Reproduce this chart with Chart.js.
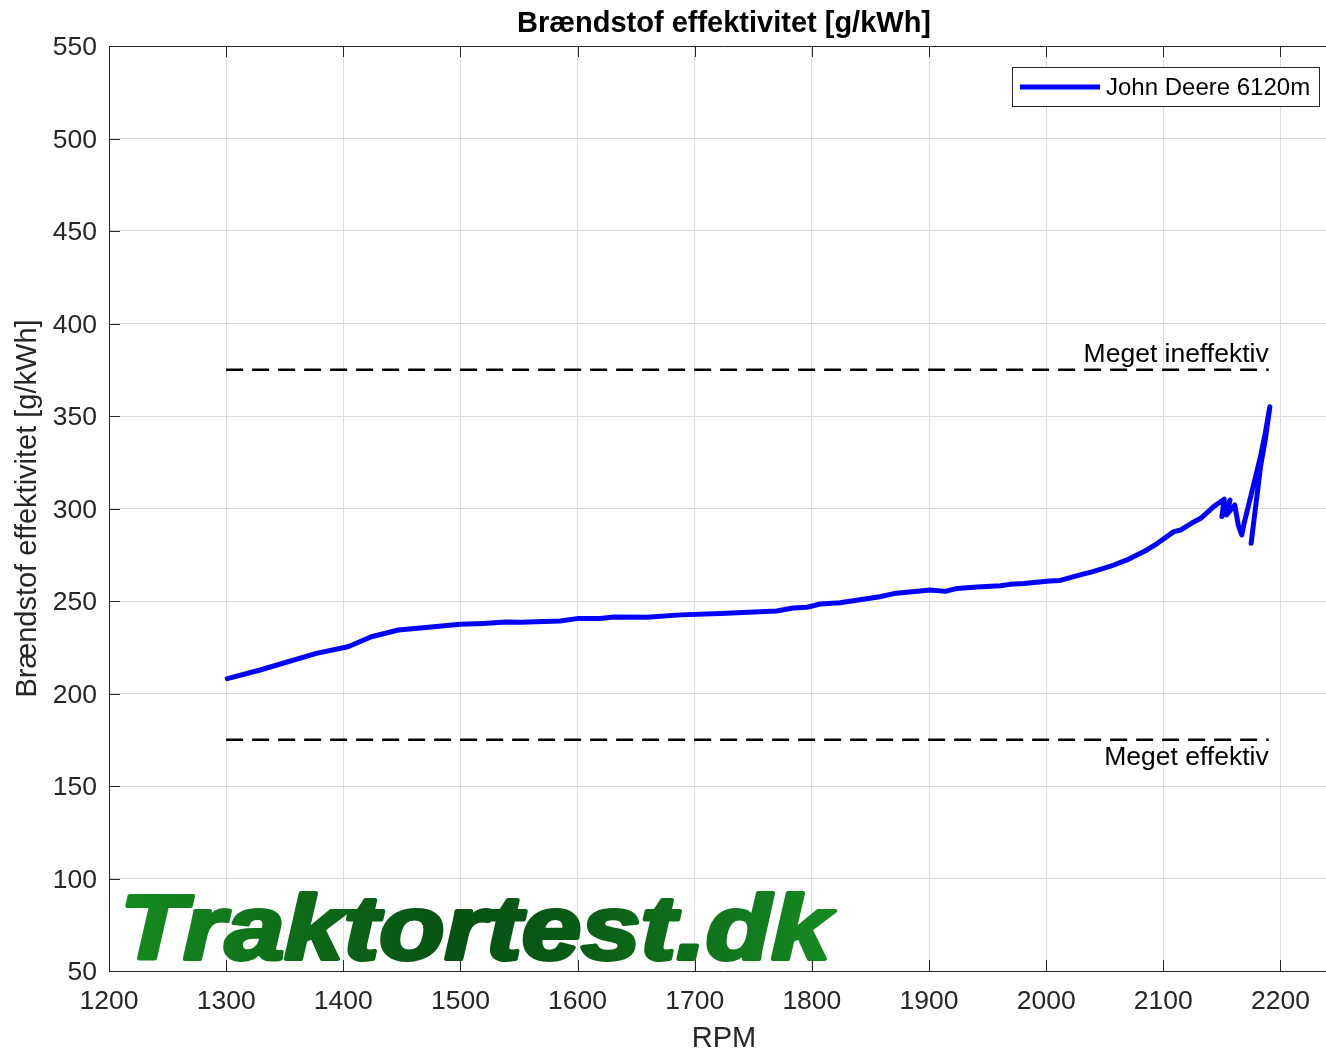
<!DOCTYPE html>
<html><head><meta charset="utf-8">
<script src="https://cdn.jsdelivr.net/npm/chart.js@4/dist/chart.umd.min.js"></script>
<style>
html,body{margin:0;padding:0;background:#fff;overflow:hidden;width:1326px;height:1056px}
#wrap{width:1448px;height:1056px;position:relative}
</style></head>
<body><div id="wrap"><canvas id="c" width="1448" height="1056"></canvas></div>
<script>
const seriesName = 'John Deere 6120m';
const rpm = [1301, 1329, 1377, 1404, 1424, 1447, 1475, 1500, 1520, 1538, 1551, 1585, 1601, 1619, 1631, 1659, 1688, 1722, 1770, 1784, 1796, 1807, 1824, 1858, 1870, 1901, 1914, 1924, 1941, 1961, 1969, 1981, 2003, 2012, 2029, 2040, 2055, 2069, 2086, 2095, 2109, 2115, 2124, 2132, 2143, 2152, 2150, 2157, 2154, 2161, 2164, 2167, 2169, 2176, 2183, 2187, 2191, 2187, 2183, 2175];
const bsfc = [208, 212.7, 221.7, 225.3, 230.7, 234.3, 236, 237.4, 237.9, 238.6, 238.5, 239.2, 240.6, 240.6, 241.3, 241.2, 242.5, 243.2, 244.6, 246.2, 246.6, 248.4, 249.1, 252.3, 254, 256, 255.2, 256.8, 257.6, 258.2, 259, 259.4, 260.8, 261.1, 264.1, 265.9, 268.8, 272.2, 277.6, 281.2, 287.5, 288.4, 292, 294.7, 301, 305, 295.6, 304.6, 296.5, 301.9, 291.1, 285.7, 292, 310, 328, 340.6, 355, 337, 322.6, 281.2];
const refRpm = [1300, 2190];
const ineffLevel = [375, 375];
const effLevel = [175, 175];
const ineffText = 'Meget ineffektiv';
const effText = 'Meget effektiv';
const xTicks = [1200, 1300, 1400, 1500, 1600, 1700, 1800, 1900, 2000, 2100, 2200];
const yTicks = [50, 100, 150, 200, 250, 300, 350, 400, 450, 500, 550];
const titleText = 'Brændstof effektivitet [g/kWh]';
const yTitle = 'Brændstof effektivitet [g/kWh]';
const xTitle = 'RPM';
const logoText = 'Traktortest.dk';

const FONT = '"Liberation Sans", Arial, sans-serif';
const AX = '#262626';

function pts(xs, ys){ return xs.map((x,i)=>({x:x, y:ys[i]})); }

const overlay = {
  id: 'overlay',
  beforeDatasetsDraw(chart){
    const ctx = chart.ctx;
    const xs = chart.scales.x;
    ctx.save();
    ctx.font = 'italic bold 92px ' + FONT;
    const m = ctx.measureText(logoText);
    const inkL = m.actualBoundingBoxLeft, inkR = m.actualBoundingBoxRight, asc = m.actualBoundingBoxAscent;
    const inkW = inkL + inkR;
    const sx = 708 / inkW, sy = 66 / asc;
    const left = xs.getPixelForValue(1200) + 18;
    ctx.translate(left + inkL * sx, 959);
    ctx.scale(sx, sy);
    const g = ctx.createLinearGradient(-inkL, 0, inkR, 0);
    g.addColorStop(0, 'rgb(22,138,32)');
    g.addColorStop(0.45, 'rgb(6,82,18)');
    g.addColorStop(0.6, 'rgb(8,88,20)');
    g.addColorStop(1, 'rgb(22,138,34)');
    ctx.fillStyle = g; ctx.strokeStyle = g; ctx.lineWidth = 4; ctx.lineJoin = 'round';
    ctx.textBaseline = 'alphabetic';
    ctx.fillText(logoText, 0, 0);
    ctx.strokeText(logoText, 0, 0);
    ctx.restore();
  },
  afterDatasetsDraw(chart){
    const ctx = chart.ctx;
    const a = chart.chartArea;
    const xs = chart.scales.x, ys = chart.scales.y;
    ctx.save();
    ctx.strokeStyle = AX; ctx.lineWidth = 1;
    ctx.beginPath();
    const L = Math.round(a.left)+0.5, T = Math.round(a.top)+0.5, R = Math.round(a.right)+0.5, B = Math.round(a.bottom)+0.5;
    ctx.moveTo(L, T); ctx.lineTo(R, T); ctx.lineTo(R, B); ctx.lineTo(L, B); ctx.closePath();
    const TL = 11;
    xTicks.forEach(v=>{
      const px = Math.round(xs.getPixelForValue(v))+0.5;
      ctx.moveTo(px, a.bottom); ctx.lineTo(px, a.bottom - TL);
      ctx.moveTo(px, a.top); ctx.lineTo(px, a.top + TL);
    });
    yTicks.forEach(v=>{
      const py = Math.round(ys.getPixelForValue(v))+0.5;
      ctx.moveTo(a.left, py); ctx.lineTo(a.left + TL, py);
      ctx.moveTo(a.right, py); ctx.lineTo(a.right - TL, py);
    });
    ctx.stroke();
    ctx.fillStyle = '#000';
    ctx.font = '26.5px ' + FONT;
    ctx.textAlign = 'right'; ctx.textBaseline = 'alphabetic';
    const rx = xs.getPixelForValue(refRpm[1]);
    ctx.fillText(ineffText, rx, ys.getPixelForValue(ineffLevel[0]) - 8);
    ctx.fillText(effText, rx, ys.getPixelForValue(effLevel[0]) + 25);
    const lx = 1012.5, ly = 67.5, lw = 307, lh = 39;
    ctx.fillStyle = '#fff'; ctx.fillRect(lx, ly, lw, lh);
    ctx.strokeStyle = AX; ctx.lineWidth = 1; ctx.strokeRect(lx, ly, lw, lh);
    ctx.strokeStyle = '#0000ff'; ctx.lineWidth = 5; ctx.lineCap = 'butt';
    ctx.beginPath(); ctx.moveTo(1020, 87); ctx.lineTo(1100, 87); ctx.stroke();
    ctx.fillStyle = '#000'; ctx.font = '24px ' + FONT; ctx.textAlign = 'left'; ctx.textBaseline = 'middle';
    ctx.fillText(seriesName, 1106, 88);
    ctx.restore();
  }
};

new Chart(document.getElementById('c'), {
  type: 'scatter',
  data: {
    datasets: [
      { label: seriesName, data: pts(rpm, bsfc), showLine: true, borderColor: '#0000ff', backgroundColor: '#0000ff',
        borderWidth: 5, pointRadius: 0, tension: 0, borderJoinStyle: 'round', borderCapStyle: 'round', order: 1 },
      { label: ineffText, data: pts(refRpm, ineffLevel), showLine: true, borderColor: '#000', borderWidth: 2.5,
        borderDash: [17, 9], pointRadius: 0, order: 2 },
      { label: effText, data: pts(refRpm, effLevel), showLine: true, borderColor: '#000', borderWidth: 2.5,
        borderDash: [17, 9], pointRadius: 0, order: 3 }
    ]
  },
  options: {
    responsive: false, animation: false, devicePixelRatio: 1,
    layout: { padding: { left: 0, right: 109, top: 0, bottom: 0 } },
    plugins: {
      legend: { display: false }, tooltip: { enabled: false },
      title: { display: true, fullSize: false, text: titleText, color: '#000', font: { family: FONT, size: 29, weight: 'bold' },
        padding: { top: 6.6, bottom: 4.6 } }
    },
    scales: {
      x: {
        type: 'linear', min: 1200, max: 2250,
        afterBuildTicks: s => { s.ticks = xTicks.map(v => ({ value: v })); },
        afterFit: s => { s.height = 85; },
        ticks: { color: AX, font: { family: FONT, size: 26.5 }, padding: 15, maxRotation: 0, autoSkip: false,
          callback: v => String(v) },
        grid: { color: '#dcdcdc', lineWidth: 1, drawTicks: false },
        border: { display: false },
        title: { display: true, text: xTitle, color: AX, font: { family: FONT, size: 29 }, padding: { top: 0, bottom: 0 } }
      },
      y: {
        type: 'linear', min: 50, max: 550,
        afterBuildTicks: s => { s.ticks = yTicks.map(v => ({ value: v })); },
        afterFit: s => { s.width = 109; },
        ticks: { color: AX, font: { family: FONT, size: 26.5 }, padding: 12, labelOffset: 2, autoSkip: false, callback: v => String(v) },
        grid: { color: '#dcdcdc', lineWidth: 1, drawTicks: false },
        border: { display: false },
        title: { display: true, text: yTitle, color: AX, font: { family: FONT, size: 29 }, padding: { top: 11, bottom: 0 } }
      }
    }
  },
  plugins: [overlay]
});
</script>
</body></html>
